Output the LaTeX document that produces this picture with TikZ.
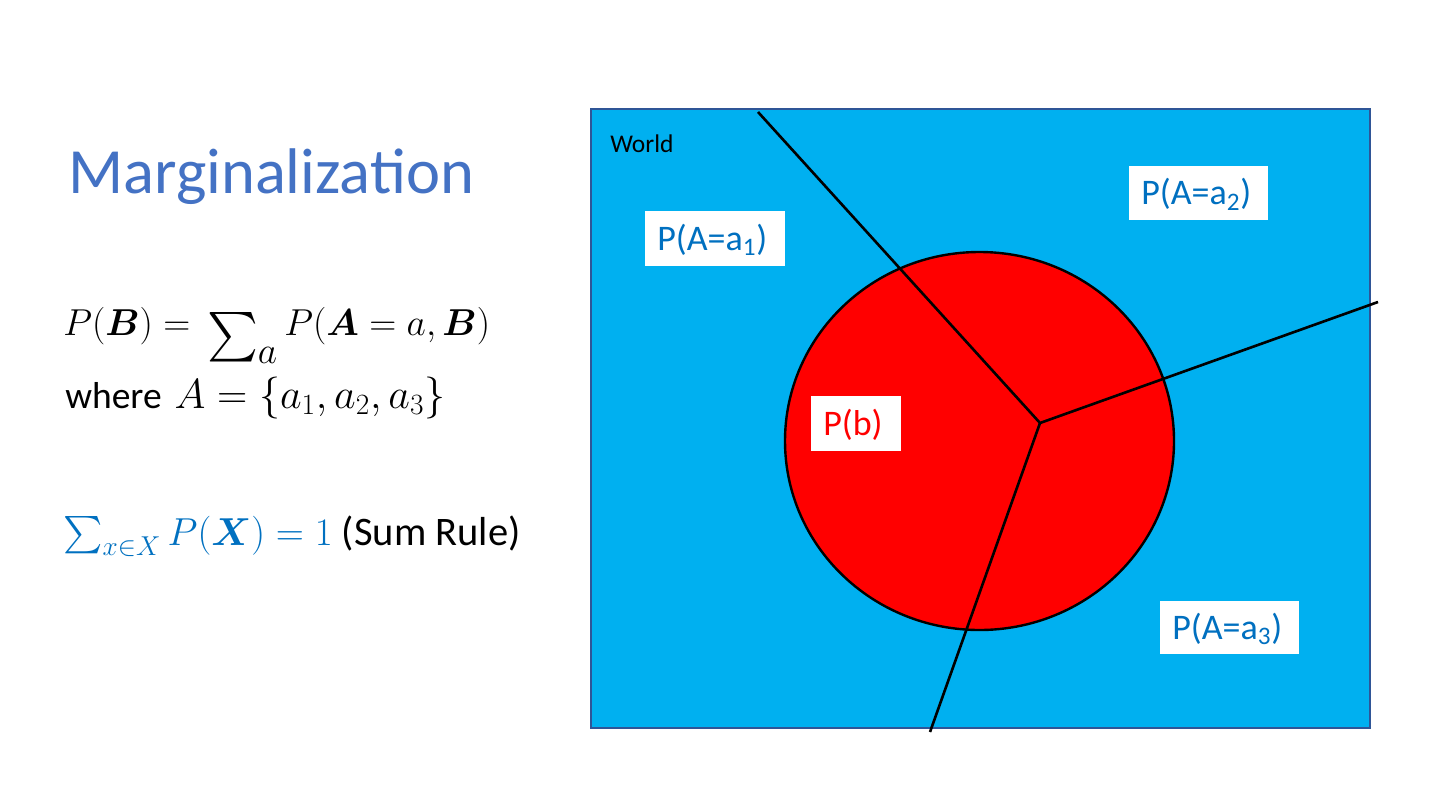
\RequirePackage{fix-cm}
\documentclass[tikz,border=0pt]{standalone}
\usepackage{amsmath}
\usepackage{graphicx}
\usepackage{fontspec}
\setmainfont{Carlito}
\definecolor{worldblue}{HTML}{00B0F0}
\definecolor{worldedge}{HTML}{2F5597}
\definecolor{labelblue}{HTML}{0070C0}
\definecolor{titleblue}{HTML}{4472C4}
\definecolor{circred}{HTML}{FF0000}
\newcommand{\bigsumop}{\mathop{\raisebox{-18pt}{\resizebox*{34pt}{33pt}{\raisebox{\depth}{$\sum$}}}}}
\begin{document}
\begin{tikzpicture}[x=0.6667pt,y=-0.6667pt,
  txt/.style={inner sep=0pt,anchor=base west},
  labelbox/.style={fill=white,anchor=north west,inner xsep=8pt,inner ysep=0pt,
    text height=15.5pt,text depth=0pt,align=left,
    font=\fontsize{24}{28}\selectfont,text=labelblue},
  divider/.style={draw=black,line width=1.75pt}]
\useasboundingbox (0,0) rectangle (1440,810);
% title and formulas
\node[txt,font=\fontsize{43}{50}\selectfont,text=titleblue] (title) at (68,193) {Marginalization};
\node[txt,font=\fontsize{25}{30}\selectfont] (eq1) at (63,335)
  {$P(\boldsymbol{B})=\,\smash[b]{\bigsumop\nolimits_{\textstyle a}}\, P(\boldsymbol{A}=a,\boldsymbol{B})$};
\node[txt,font=\fontsize{25}{30}\selectfont] (eq2) at (65,408)
  {where\hspace{3pt} {\fontsize{28}{34}\selectfont$A=\{a_1,a_2,a_3\}$}};
\node[txt,font=\fontsize{27}{32}\selectfont] (eq3) at (63,545)
  {\textcolor{labelblue}{\fontsize{26}{31}\selectfont$\sum_{x\in X} P(\boldsymbol{X})=1$} (Sum Rule)};
% world
\node[draw=worldedge,fill=worldblue,line width=1pt,anchor=north west,inner sep=0pt,
  minimum width=779*0.6667pt,minimum height=619*0.6667pt] (world) at (590,108) {};
\node[txt,font=\fontsize{17}{20}\selectfont] (worldlbl) at (610,152) {World};
\draw[fill=circred,draw=black,line width=1.6pt] (979.5,441) ellipse [x radius=194.5,y radius=189];
\node (circ) at (979.5,441) {};
\coordinate (j) at (1040,423);
\coordinate (t) at (758,112);
\coordinate (r) at (1378,302);
\coordinate (b) at (930,732);
\draw[divider] (t) -- (j) -- (r);
\draw[divider] (j) -- (b);
% labels
\node[labelbox,text width=140*0.6667pt-16pt,minimum height=55*0.6667pt] (la1) at (645,211) {P(A=a\textsubscript{1})};
\node[labelbox,text width=139*0.6667pt-16pt,minimum height=54*0.6667pt] (la2) at (1129,166) {P(A=a\textsubscript{2})};
\node[labelbox,text width=90*0.6667pt-16pt,minimum height=55*0.6667pt,text=circred] (lb) at (811,396) {P(b)};
\node[labelbox,text width=139*0.6667pt-16pt,minimum height=53*0.6667pt] (la3) at (1160,601) {P(A=a\textsubscript{3})};
\end{tikzpicture}
\end{document}
